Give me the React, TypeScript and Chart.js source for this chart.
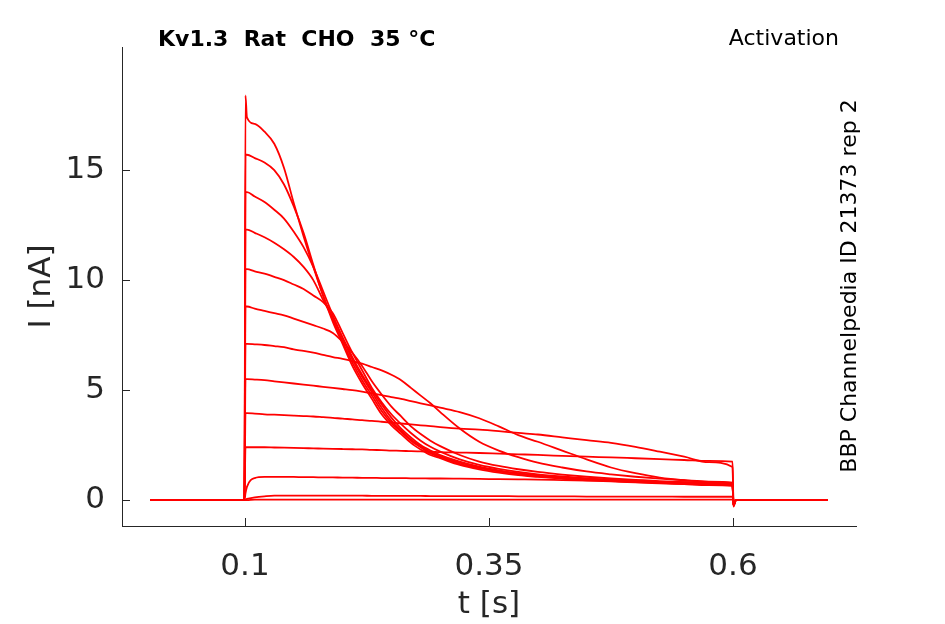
import { useEffect, useRef } from "react";
import { Chart, registerables } from "chart.js";

Chart.register(...registerables);

// sample times [s] shared by every sweep
const timeS = [
  0.003, 0.0995, 0.1005, 0.102, 0.11, 0.12, 0.13, 0.14, 0.15, 0.16, 0.17, 0.18, 0.19, 0.2, 0.21, 0.22, 0.23, 0.24,
  0.25, 0.26, 0.27, 0.28, 0.29, 0.3, 0.32, 0.34, 0.36, 0.38, 0.4, 0.425, 0.45, 0.475, 0.5, 0.525, 0.55, 0.575,
  0.5995, 0.6005, 0.603, 0.697,
];

// current [nA] per sweep, lowest step first
const sweep01 = [
  0, 0, 0, 0, 0.02, 0.02, 0.02, 0.02, 0.02, 0.02, 0.02, 0.02, 0.02, 0.02, 0.02, 0.02, 0.02, 0.02, 0.02, 0.02, 0.02,
  0.02, 0.02, 0.02, 0.02, 0.02, 0.02, 0.02, 0.02, 0.02, 0.02, 0.02, 0.02, 0.02, 0.02, 0.02, 0.02, -0.05, 0, 0,
];
const sweep02 = [
  0, 0, 0.02, 0.05, 0.12, 0.17, 0.2, 0.2, 0.2, 0.2, 0.2, 0.2, 0.2, 0.2, 0.2, 0.2, 0.19, 0.19, 0.19, 0.19, 0.19, 0.19,
  0.18, 0.18, 0.18, 0.18, 0.18, 0.17, 0.17, 0.17, 0.16, 0.16, 0.16, 0.16, 0.15, 0.15, 0.15, -0.05, 0, 0,
];
const sweep03 = [
  0, 0, 0.3, 0.6, 1.0, 1.05, 1.05, 1.05, 1.05, 1.04, 1.04, 1.03, 1.03, 1.02, 1.02, 1.01, 1.01, 1.0, 1.0, 1.0, 0.99,
  0.99, 0.98, 0.98, 0.97, 0.96, 0.95, 0.94, 0.93, 0.91, 0.89, 0.87, 0.85, 0.83, 0.81, 0.79, 0.77, -0.12, 0, 0,
];
const sweep04 = [
  0, 0, 2.4, 2.4, 2.4, 2.4, 2.39, 2.38, 2.37, 2.36, 2.35, 2.34, 2.33, 2.32, 2.31, 2.3, 2.28, 2.27, 2.25, 2.24, 2.22,
  2.21, 2.2, 2.18, 2.16, 2.14, 2.11, 2.08, 2.05, 2.01, 1.97, 1.94, 1.9, 1.86, 1.82, 1.78, 1.75, -0.15, 0, 0,
];
const sweep05 = [
  0, 0, 3.95, 3.95, 3.93, 3.9, 3.88, 3.86, 3.84, 3.82, 3.8, 3.77, 3.74, 3.7, 3.67, 3.63, 3.6, 3.56, 3.52, 3.48, 3.44,
  3.4, 3.36, 3.32, 3.25, 3.2, 3.13, 3.05, 2.98, 2.85, 2.72, 2.6, 2.42, 2.2, 1.97, 1.72, 1.5, -0.2, 0, 0,
];
const sweep06 = [
  0, 0, 5.5, 5.5, 5.48, 5.45, 5.4, 5.35, 5.3, 5.25, 5.2, 5.15, 5.1, 5.05, 5.0, 4.93, 4.85, 4.77, 4.68, 4.6, 4.5, 4.4,
  4.3, 4.2, 4.0, 3.72, 3.35, 2.95, 2.65, 2.25, 1.85, 1.48, 1.22, 1.02, 0.9, 0.83, 0.78, -0.25, 0, 0,
];
const sweep07 = [
  0, 0, 7.1, 7.1, 7.08, 7.05, 7.0, 6.95, 6.85, 6.78, 6.7, 6.6, 6.5, 6.42, 6.32, 6.2, 6.05, 5.9, 5.7, 5.45, 5.1, 4.75,
  4.4, 4.0, 3.25, 2.65, 2.25, 1.95, 1.7, 1.48, 1.3, 1.17, 1.06, 0.97, 0.9, 0.84, 0.79, -0.25, 0, 0,
];
const sweep08 = [
  0, 0, 8.8, 8.8, 8.7, 8.6, 8.5, 8.4, 8.25, 8.1, 7.95, 7.8, 7.6, 7.2, 6.7, 6.1, 5.4, 4.8, 4.25, 3.8, 3.35, 3.0, 2.7,
  2.45, 2.05, 1.75, 1.55, 1.4, 1.28, 1.16, 1.06, 0.98, 0.92, 0.86, 0.81, 0.77, 0.74, -0.25, 0, 0,
];
const sweep09 = [
  0, 0, 10.5, 10.5, 10.4, 10.3, 10.15, 10.0, 9.8, 9.6, 9.3, 9.0, 8.5, 7.6, 6.7, 5.9, 5.1, 4.45, 3.9, 3.45, 3.05, 2.7,
  2.42, 2.2, 1.85, 1.6, 1.42, 1.28, 1.17, 1.07, 0.99, 0.92, 0.87, 0.82, 0.78, 0.74, 0.71, -0.25, 0, 0,
];
const sweep10 = [
  0, 0, 12.3, 12.3, 12.15, 11.95, 11.7, 11.4, 11.05, 10.6, 10.0, 9.1, 8.3, 7.4, 6.5, 5.7, 5.0, 4.35, 3.75, 3.25, 2.85,
  2.5, 2.25, 2.05, 1.75, 1.52, 1.35, 1.22, 1.12, 1.04, 0.97, 0.9, 0.85, 0.8, 0.76, 0.72, 0.7, -0.25, 0, 0,
];
const sweep11 = [
  0, 0, 14.0, 14.0, 13.8, 13.55, 13.2, 12.8, 12.2, 11.5, 10.6, 9.5, 8.4, 7.35, 6.4, 5.6, 4.9, 4.2, 3.6, 3.15, 2.75,
  2.45, 2.18, 2.0, 1.7, 1.48, 1.32, 1.2, 1.1, 1.02, 0.95, 0.89, 0.84, 0.79, 0.75, 0.71, 0.68, -0.25, 0, 0,
];
const sweep12 = [
  0, 0, 15.7, 15.7, 15.55, 15.35, 15.0, 14.35, 13.35, 12.15, 10.7, 9.3, 8.2, 7.2, 6.25, 5.45, 4.75, 4.05, 3.5, 3.1,
  2.7, 2.4, 2.12, 1.95, 1.65, 1.45, 1.3, 1.17, 1.08, 1.0, 0.93, 0.87, 0.82, 0.78, 0.74, 0.7, 0.67, -0.25, 0, 0,
];
const sweep13 = [
  0, 0, 18.4, 17.4, 17.1, 16.75, 16.2, 15.1, 13.5, 12.0, 10.6, 9.3, 8.1, 7.1, 6.1, 5.3, 4.6, 3.9, 3.4, 3.0, 2.6, 2.3,
  2.05, 1.9, 1.6, 1.4, 1.25, 1.13, 1.05, 0.97, 0.9, 0.85, 0.8, 0.76, 0.72, 0.68, 0.65, -0.3, 0, 0,
];

const sweeps = [
  sweep01, sweep02, sweep03, sweep04, sweep05, sweep06, sweep07,
  sweep08, sweep09, sweep10, sweep11, sweep12, sweep13,
];

const xTicks = [0.1, 0.35, 0.6];
const yTicks = [0, 5, 10, 15];

const titleText = "Kv1.3  Rat  CHO  35 \u00b0C";
const protocolText = "Activation";
const sourceText = "BBP Channelpedia ID 21373 rep 2";

const axisColor = "#262626";
const font = "'DejaVu Sans', sans-serif";

// inward tick marks and the three annotation texts
const decorations = {
  id: "decorations",
  afterDraw(chart: Chart) {
    const { ctx, chartArea } = chart;
    const xs = chart.scales.x;
    const ys = chart.scales.y;
    ctx.save();
    ctx.strokeStyle = axisColor;
    ctx.lineWidth = 1;
    ctx.beginPath();
    xTicks.forEach((v) => {
      const px = Math.round(xs.getPixelForValue(v)) + 0.5;
      ctx.moveTo(px, chartArea.bottom);
      ctx.lineTo(px, chartArea.bottom - 8);
    });
    yTicks.forEach((v) => {
      const py = Math.round(ys.getPixelForValue(v)) + 0.5;
      ctx.moveTo(chartArea.left, py);
      ctx.lineTo(chartArea.left + 8, py);
    });
    ctx.stroke();

    ctx.fillStyle = "#000";
    ctx.textBaseline = "middle";
    ctx.font = `bold 22px ${font}`;
    ctx.textAlign = "left";
    ctx.fillText(titleText, 158, 40);
    ctx.font = `22px ${font}`;
    ctx.textAlign = "right";
    ctx.fillText(protocolText, 839, 39);

    ctx.translate(850, 286);
    ctx.rotate(-Math.PI / 2);
    ctx.textAlign = "center";
    ctx.fillText(sourceText, 0, 0);
    ctx.restore();
  },
};

export default function App() {
  const canvasRef = useRef<HTMLCanvasElement | null>(null);
  const chartRef = useRef<Chart | null>(null);

  useEffect(() => {
    if (!canvasRef.current) return;
    if (chartRef.current) chartRef.current.destroy();

    chartRef.current = new Chart(canvasRef.current, {
      type: "line",
      data: {
        datasets: sweeps.map((s, i) => ({
          label: `sweep ${i + 1}`,
          data: timeS.map((t, k) => ({ x: t, y: s[k] })),
          borderColor: "#ff0000",
          borderWidth: 1.8,
          pointRadius: 0,
          cubicInterpolationMode: "monotone" as const,
          fill: false,
        })),
      },
      options: {
        animation: false,
        responsive: true,
        maintainAspectRatio: false,
        layout: { padding: { top: 47, right: 89, left: 0, bottom: 0 } },
        plugins: {
          legend: { display: false },
          tooltip: { enabled: false },
        },
        scales: {
          x: {
            type: "linear",
            min: -0.026,
            max: 0.726,
            afterBuildTicks: (scale) => {
              scale.ticks = xTicks.map((v) => ({ value: v }));
            },
            afterFit: (scale) => {
              scale.height = 98;
            },
            grid: { display: false, drawTicks: false },
            border: { display: true, color: axisColor, width: 1 },
            ticks: {
              padding: 22,
              color: axisColor,
              font: { family: font, size: 31 },
              callback: (v) => String(v),
            },
            title: {
              display: true,
              text: "t [s]",
              color: axisColor,
              font: { family: font, size: 31 },
              padding: { top: 0, bottom: 0 },
            },
          },
          y: {
            min: -1.18,
            max: 20.6,
            afterBuildTicks: (scale) => {
              scale.ticks = yTicks.map((v) => ({ value: v }));
            },
            afterFit: (scale) => {
              scale.width = 122;
            },
            grid: { display: false, drawTicks: false },
            border: { display: true, color: axisColor, width: 1 },
            ticks: {
              padding: 17,
              color: axisColor,
              font: { family: font, size: 31 },
              callback: (v) => String(v),
            },
            title: {
              display: true,
              text: "I [nA]",
              color: axisColor,
              font: { family: font, size: 31 },
              padding: { top: 23, bottom: 0 },
            },
          },
        },
      },
      plugins: [decorations],
    });

    return () => {
      if (chartRef.current) {
        chartRef.current.destroy();
        chartRef.current = null;
      }
    };
  }, []);

  return (
    <div style={{ position: "fixed", left: 0, top: 0, width: 945, height: 624, background: "#fff" }}>
      <canvas ref={canvasRef} />
    </div>
  );
}
